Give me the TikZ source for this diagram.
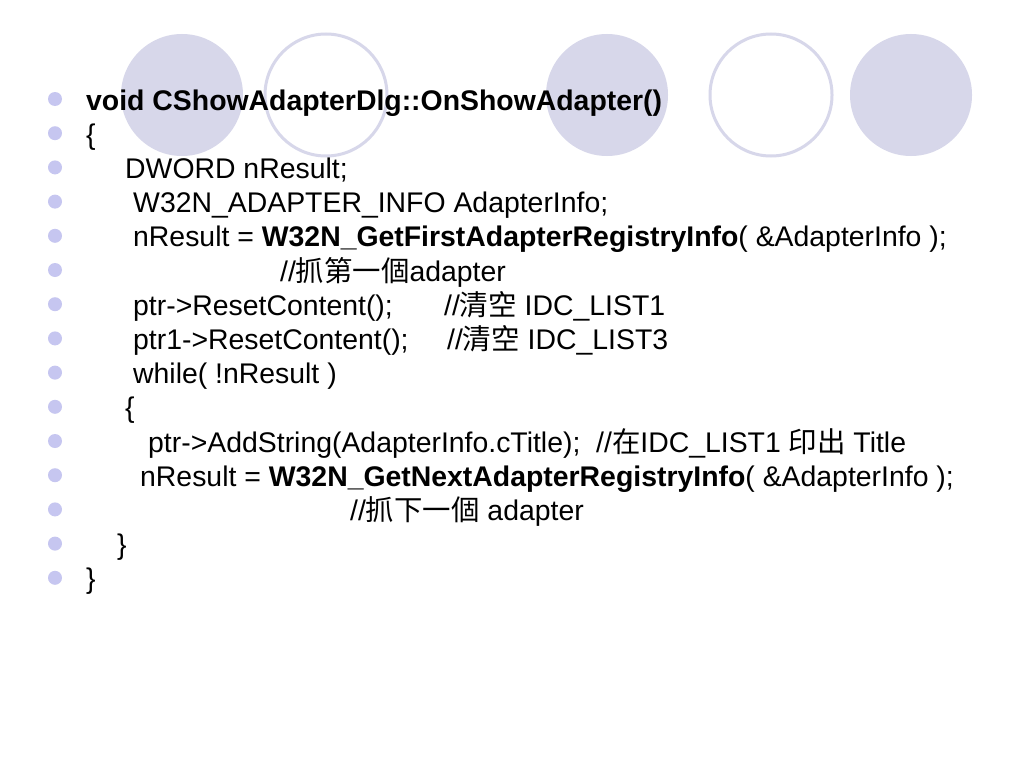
\documentclass[tikz,border=0pt]{standalone}
\usepackage{fontspec}
\setmainfont{Liberation Sans}
\newfontfamily\cjk{Noto Sans CJK TC}
\definecolor{lav}{HTML}{D7D7EA}
\definecolor{dotc}{HTML}{C6C6F0}
\begin{document}
\begin{tikzpicture}[x=1pt,y=-1pt,
  disc/.style={fill=lav},
  ring/.style={draw=lav,line width=3pt},
  dot/.style={fill=dotc},
  line/.style={anchor=base west,inner sep=0pt,font=\fontsize{28.4}{34}\selectfont}]
\fill[white] (0,0) rectangle (1024,768);
\useasboundingbox (0,0) rectangle (1024,768);

\fill[disc] (182,95) circle (61);
\draw[ring] (326,95) circle (61);
\fill[disc] (607,95) circle (61);
\draw[ring] (771,95) circle (61);
\fill[disc] (911,95) circle (61);

\foreach \i in {0,...,14}
  \fill[dot] (55,{99+34.2*\i}) circle (7);

\node[line] (l1) at (86,110) {\bfseries void CShowAdapterDlg::OnShowAdapter()};
\node[line] (l2) at (86,144.2) {\{};
\node[line] (l3) at (125,178.4) {DWORD nResult;};
\node[line] (l4) at (133,212.6) {W32N\_ADAPTER\_INFO AdapterInfo;};
\node[line] (l5) at (133,246.8) {nResult = \textbf{W32N\_GetFirstAdapterRegistryInfo}( \&AdapterInfo );};
\node[line] (l6) at (280,281) {//{\cjk 抓第一個}adapter};
\node[line] (l7) at (133,315.2) {ptr->ResetContent();};
\node[line] (c7) at (444,315.2) {//{\cjk 清空} IDC\_LIST1};
\node[line] (l8) at (133,349.4) {ptr1->ResetContent();};
\node[line] (c8) at (447,349.4) {//{\cjk 清空} IDC\_LIST3};
\node[line] (l9) at (133,383.6) {while( !nResult )};
\node[line] (l10) at (125,417.8) {\{};
\node[line] (l11) at (148,452) {ptr->AddString(AdapterInfo.cTitle);\ \ //{\cjk 在}IDC\_LIST1 {\cjk 印出} Title};
\node[line] (l12) at (140,486.2) {nResult = \textbf{W32N\_GetNextAdapterRegistryInfo}( \&AdapterInfo );};
\node[line] (l13) at (350,520.4) {//{\cjk 抓下一個} adapter};
\node[line] (l14) at (117,554.6) {\}};
\node[line] (l15) at (86,588.8) {\}};
\end{tikzpicture}
\end{document}
